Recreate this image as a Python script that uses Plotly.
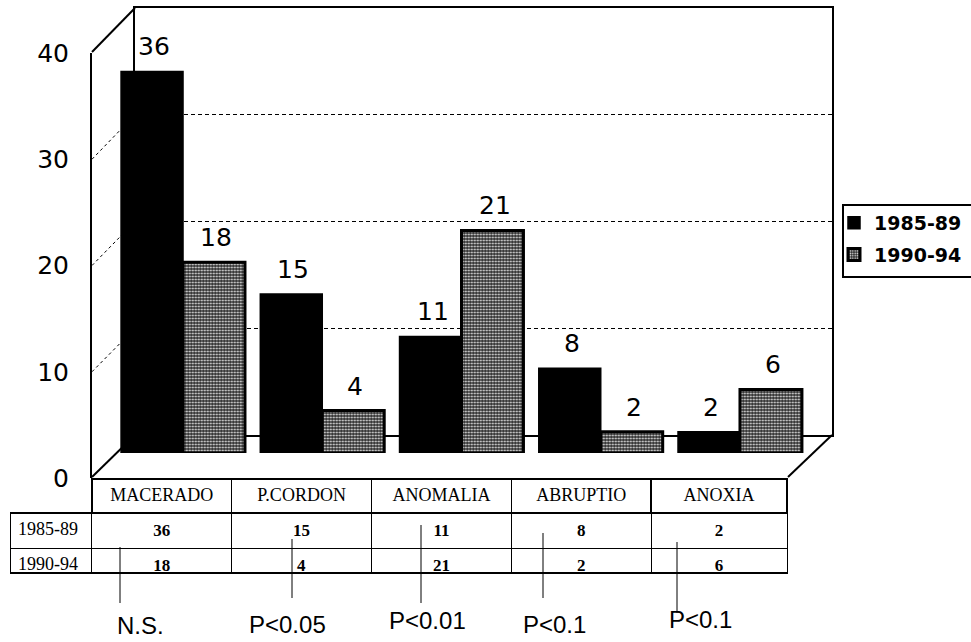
import plotly.graph_objects as go

# ---- data ----
categories = ["MACERADO", "P.CORDON", "ANOMALIA", "ABRUPTIO", "ANOXIA"]
periods = ["1985-89", "1990-94"]
deaths_1985_89 = [36, 15, 11, 8, 2]
deaths_1990_94 = [18, 4, 21, 2, 6]
significance = ["N.S.", "P<0.05", "P<0.01", "P<0.1", "P<0.1"]
axis_ticks = [0, 10, 20, 30, 40]

W, H = 971, 642


def fx(px):
    return px / W


def fy(py):
    return 1 - py / H


SANS = "DejaVu Sans"
ARIAL = "Liberation Sans, Arial"
SERIF = "Liberation Serif, Times New Roman"

fig = go.Figure()

# subplot 1: back wall with dashed gridlines (drawn first, under the bars)
fig.add_trace(go.Scatter(x=[0], y=[0], xaxis="x", yaxis="y", mode="markers",
                         marker=dict(opacity=0), showlegend=False, hoverinfo="skip"))
# subplot 2: front value axis with the tick labels
fig.add_trace(go.Scatter(x=[0], y=[0], xaxis="x2", yaxis="y2", mode="markers",
                         marker=dict(opacity=0), showlegend=False, hoverinfo="skip"))

# subplot 3: the bars
fig.add_trace(go.Bar(
    x=categories, y=deaths_1985_89, name=periods[0], xaxis="x3", yaxis="y3",
    marker=dict(color="#000000", line=dict(color="#000000", width=1.5)),
    legendgroup="a",
))
fig.add_trace(go.Bar(
    x=categories, y=deaths_1990_94, name=periods[1], xaxis="x3", yaxis="y3",
    marker=dict(color="#505050", line=dict(color="#000000", width=3),
                pattern=dict(shape=".", fgcolor="#eeeeee", bgcolor="#2a2a2a",
                             size=3, solidity=0.32)),
    legendgroup="b",
))

# value labels above every bar
annotations = []
for series, shift in ((deaths_1985_89, -31), (deaths_1990_94, 31)):
    for cat, val in zip(categories, series):
        annotations.append(dict(
            x=cat, y=val, xref="x3", yref="y3", text=str(val), showarrow=False,
            xshift=shift + 2, yshift=8, yanchor="bottom",
            font=dict(family=SANS, size=25, color="black"),
        ))

# data table under the chart
table_cols = [periods] + [[f"<b>{a}</b>", f"<b>{b}</b>"]
                          for a, b in zip(deaths_1985_89, deaths_1990_94)]
clear = "rgba(0,0,0,0)"
fig.add_trace(go.Table(
    domain=dict(x=[fx(10), fx(788)], y=[fy(573), fy(479)]),
    columnwidth=[82, 140, 140, 140, 140, 136],
    header=dict(
        values=[""] + categories,
        height=34,
        align="center",
        fill_color=[clear] + ["white"] * 5,
        line=dict(color=[clear] + ["black"] * 5, width=1.5),
        font=dict(family=SERIF, size=18, color="black"),
    ),
    cells=dict(
        values=table_cols,
        height=30,
        align=["left"] + ["center"] * 5,
        fill_color="white",
        line=dict(color="black", width=1),
        font=dict(family=SERIF, size=[18, 17, 17, 17, 17, 17], color="black"),
    ),
))

# significance notes under the table
note_pos = [  # (text x, text y, line x, line top, line bottom)
    (140, 625, 120, 547, 603),
    (287, 624, 292, 539, 598),
    (427, 620, 421, 525, 603),
    (554, 624, 543, 533, 598),
    (700, 619, 677, 542, 613),
]
shapes = []
for txt, (tx, ty, lx, l0, l1) in zip(significance, note_pos):
    annotations.append(dict(
        x=fx(tx), y=fy(ty), xref="paper", yref="paper", text=txt, showarrow=False,
        xanchor="center", yanchor="middle",
        font=dict(family=ARIAL, size=24, color="black"),
    ))
    shapes.append(dict(type="line", xref="paper", yref="paper",
                       x0=fx(lx), x1=fx(lx), y0=fy(l0), y1=fy(l1),
                       line=dict(color="black", width=1)))

# heavier horizontal rules of the table
for py, x0 in ((479, 92), (513, 10), (573, 10)):
    shapes.append(dict(type="line", xref="paper", yref="paper",
                       x0=fx(x0), x1=fx(788), y0=fy(py), y1=fy(py),
                       line=dict(color="black", width=2)))

# legend frame (runs past the right edge of the page)
shapes.append(dict(type="rect", xref="paper", yref="paper",
                   x0=fx(843), x1=fx(985), y0=fy(205), y1=fy(277),
                   fillcolor="white", line=dict(color="black", width=2)))

# frame of the pseudo-3D box: left wall and floor edges
back_l, back_r, back_top, back_bot = 135, 832, 8, 435
front_l, front_r, front_top, front_bot = 92, 788, 52, 477


def back_y(v):
    return back_bot - (back_bot - back_top) * v / 40


def front_y(v):
    return 478 - (478 - 53) * v / 40


edge = dict(color="black", width=2)
shapes += [
    dict(type="line", xref="paper", yref="paper", layer="below",
         x0=fx(front_l), y0=fy(front_top), x1=fx(back_l), y1=fy(back_top), line=edge),
    dict(type="line", xref="paper", yref="paper", layer="below",
         x0=fx(front_l), y0=fy(front_bot), x1=fx(back_l), y1=fy(back_bot), line=edge),
    dict(type="line", xref="paper", yref="paper", layer="below",
         x0=fx(front_r), y0=fy(front_bot), x1=fx(back_r), y1=fy(back_bot), line=edge),
]
for v in axis_ticks[1:-1]:
    shapes.append(dict(type="line", xref="paper", yref="paper", layer="below",
                       x0=fx(front_l), y0=fy(front_y(v)), x1=fx(back_l), y1=fy(back_y(v)),
                       line=dict(color="black", width=1, dash="3px,3px")))

fig.update_layout(
    template="none",
    width=W, height=H, autosize=False,
    margin=dict(l=0, r=0, t=0, b=0, autoexpand=False),
    paper_bgcolor="white", plot_bgcolor="rgba(0,0,0,0)",
    barmode="group", bargap=0.11, bargroupgap=0.0,
    showlegend=True,
    legend=dict(
        xref="container", yref="container",
        x=fx(834), y=fy(204), xanchor="left", yanchor="top",
        bgcolor="rgba(0,0,0,0)", borderwidth=0,
        font=dict(family=SANS, size=19, color="black", weight="bold"),
        traceorder="grouped", tracegroupgap=4,
        itemwidth=30,
    ),
    # back wall
    xaxis=dict(domain=[fx(back_l), fx(back_r)], range=[0, 1], showgrid=False,
               zeroline=False, showticklabels=False, ticks="", automargin=False,
               showline=True, mirror=True, linecolor="black", linewidth=2),
    yaxis=dict(domain=[fy(back_bot), fy(back_top)], range=[0, 40],
               tickvals=axis_ticks[1:-1], showticklabels=False, ticks="",
               showgrid=True, gridcolor="black", gridwidth=1, griddash="4px,3px",
               zeroline=False, showline=True, mirror=True, linecolor="black",
               linewidth=2, automargin=False),
    # front value axis
    xaxis2=dict(domain=[fx(front_l), fx(front_r)], range=[0, 1], visible=False,
                automargin=False),
    yaxis2=dict(domain=[fy(478), fy(53)], range=[0, 40], anchor="x2",
                tickvals=axis_ticks, ticks="", showgrid=False, zeroline=False,
                showline=True, linecolor="black", linewidth=2,
                ticklabelstandoff=16, automargin=False,
                tickfont=dict(family=SANS, size=25, color="black")),
    # bars
    xaxis3=dict(domain=[fx(113.4), fx(809.6)], range=[-0.5, 4.5], type="category",
                anchor="y3", visible=False, automargin=False),
    yaxis3=dict(domain=[fy(453), fy(453 - 424)], range=[0, 40], anchor="x3",
                visible=False, automargin=False),
    annotations=annotations,
    shapes=shapes,
)

fig.write_html("out.html")
